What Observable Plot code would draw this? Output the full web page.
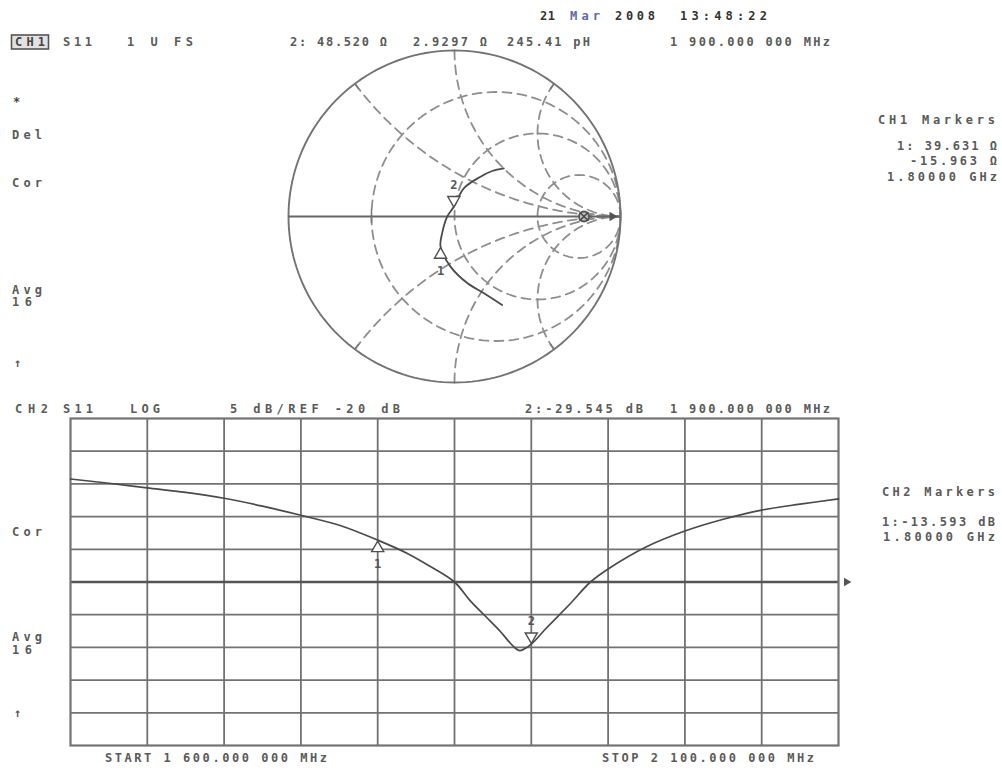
<!DOCTYPE html>
<html><head><meta charset="utf-8">
<script src="https://cdn.jsdelivr.net/npm/d3@7"></script>
<script src="https://cdn.jsdelivr.net/npm/@observablehq/plot@0.6"></script>
<style>
html,body{margin:0;padding:0;background:#fff;}
#page{position:relative;width:1002px;height:771px;overflow:hidden;background:#fff;}
#page svg{position:absolute;max-width:none!important;}
</style></head><body><div id="page"></div>
<script>
// ---------- DATA ----------
// CH2 log-magnitude trace (S11, dB) vs frequency (GHz)
const freqGHz = [1.600,1.625,1.650,1.675,1.700,1.725,1.750,1.776,1.800,1.819,1.834,1.850,1.860,1.870,1.880,1.885,1.890,1.8925,1.895,1.900,1.910,1.925,1.9385,1.950,1.975,2.000,2.025,2.050,2.075,2.100];
const s11dB   = [-4.25,-4.9,-5.6,-6.3,-7.2,-8.4,-9.8,-11.4,-13.6,-15.6,-17.6,-20.0,-22.8,-25.2,-27.6,-29.0,-30.2,-30.5,-30.3,-29.5,-27.0,-23.4,-20.0,-18.0,-14.6,-12.2,-10.4,-9.0,-8.1,-7.3];
// CH1 Smith chart trace (reflection coefficient, real / imaginary), 1.6 -> 2.1 GHz
const smithRe = [0.287,0.175,0.077,-0.024,-0.084,-0.074,-0.044,-0.004,0.056,0.157,0.227,0.297];
const smithIm = [-0.533,-0.461,-0.401,-0.302,-0.182,-0.099,-0.001,0.059,0.170,0.240,0.274,0.290];
// Smith graticule
const rCircles = [1/3, 1, 3];
const xArcs = [0.5, 1, 2, -0.5, -1, -2];
// Log-mag graticule
const xGridGHz = [1.65,1.70,1.75,1.80,1.85,1.90,1.95,2.00,2.05];
const yGridDB  = [0,-5,-10,-15,-25,-30,-35,-40];
const refDB = -20;
const xDomainGHz = [1.6, 2.1];
const yDomainDB = [-45, 5];
// markers (direction: "up" = triangle below trace pointing up, "down" = above pointing down)
const lmMarkerLabels = ["1","2"];
const lmMarkerFreq = [1.80, 1.90];
const lmMarkerDB = [-13.593, -29.545];
const smMarkerLabels = ["1","2"];
const smMarkerRe = [-0.084, -0.004];
const smMarkerIm = [-0.182, 0.051];
const markerDir = ["up", "down"];

// ---------- BUILD ----------
const page = document.getElementById("page");
const dash = "9,6";
const gridGray = "#8e8e8e";
const FONT = "DejaVu Sans Mono";

function gamma(a, b) { // normalized z = a + jb -> reflection coefficient
  const d = (a+1)*(a+1) + b*b;
  return [(a*a + b*b - 1)/d, 2*b/d];
}
const angles = d3.range(0, 361, 2);
const rGrid = rCircles.flatMap(r => angles.map(t => {
  const c = r/(1+r), rad = 1/(1+r), a = t*Math.PI/180;
  return {k: "r"+r, re: c + rad*Math.cos(a), im: rad*Math.sin(a)};
}));
const rSamples = [0, ...d3.range(0, 121).map(i => Math.pow(10, -2 + i*0.04))];
const xGrid = xArcs.flatMap(x => rSamples.map(r => {
  const [re, im] = gamma(r, x);
  return {k: "x"+x, re, im};
}));
const outer = angles.map(t => ({re: Math.cos(t*Math.PI/180), im: Math.sin(t*Math.PI/180)}));
const tickLinks = [0.5, 2, -0.5, -2].map(x => {
  const [re, im] = gamma(0, x);
  return {x1: re*0.96, y1: im*0.96, x2: re, y2: im};
});
const smTrace = smithRe.map((re, i) => ({re, im: smithIm[i]}));
const smMarkers = smMarkerLabels.map((l, i) => ({l, re: smMarkerRe[i], im: smMarkerIm[i], dir: markerDir[i]}));

function markerMarks(data, x, y) {
  const up = d => d.dir === "up", down = d => d.dir === "down";
  const tri = {x, y, r: 4.5, symbol: "triangle", fill: "white", stroke: "#505050", strokeWidth: 1.4};
  const lab = {x, y, text: "l", fontFamily: FONT, fontSize: 12, fontWeight: "bold", fill: "#555"};
  return [
    Plot.dot(data, {...tri, filter: up, dy: 8}),
    Plot.dot(data, {...tri, filter: down, rotate: 180, dy: -8}),
    Plot.text(data, {...lab, filter: up, dy: 24}),
    Plot.text(data, {...lab, filter: down, dy: -23})
  ];
}

const smith = Plot.plot({
  width: 352, height: 352, margin: 10,
  x: {domain: [-1, 1], axis: null},
  y: {domain: [-1, 1], axis: null},
  marks: [
    Plot.line(rGrid, {x: "re", y: "im", z: "k", stroke: gridGray, strokeWidth: 1.8, strokeDasharray: dash}),
    Plot.line(xGrid, {x: "re", y: "im", z: "k", stroke: gridGray, strokeWidth: 1.8, strokeDasharray: dash}),
    Plot.line(outer, {x: "re", y: "im", stroke: "#737373", strokeWidth: 1.9}),
    Plot.ruleY([0], {stroke: "#666", strokeWidth: 1.9}),
    Plot.ruleX([-0.5], {y1: -0.04, y2: 0.04, stroke: "#777", strokeWidth: 1.5}),
    Plot.link(tickLinks, {x1: "x1", y1: "y1", x2: "x2", y2: "y2", stroke: "#777", strokeWidth: 1.5}),
    Plot.dot([{re: 0.78, im: 0}], {x: "re", y: "im", r: 5, stroke: "#555", strokeWidth: 1.8, fill: "#bbb"}),
    Plot.dot([{re: 0.78, im: 0}], {x: "re", y: "im", r: 4, symbol: "times", stroke: "#444", strokeWidth: 1.4}),
    Plot.dot([{re: 0.95, im: 0}], {x: "re", y: "im", r: 3.5, symbol: "triangle", rotate: 90, fill: "#555", stroke: "none"}),
    Plot.line(smTrace, {x: "re", y: "im", stroke: "#4a4a4a", strokeWidth: 1.8, curve: "catmull-rom"}),
    ...markerMarks(smMarkers, "re", "im")
  ]
});
smith.style.left = "278px";
smith.style.top = "40px";
page.appendChild(smith);

const lmData = freqGHz.map((f, i) => ({f, db: s11dB[i]}));
const lmMarkers = lmMarkerLabels.map((l, i) => ({l, f: lmMarkerFreq[i], db: lmMarkerDB[i], dir: markerDir[i]}));
const logmag = Plot.plot({
  width: 798, height: 337,
  marginLeft: 10, marginRight: 20, marginTop: 5, marginBottom: 5,
  x: {domain: xDomainGHz, axis: null},
  y: {domain: yDomainDB, axis: null},
  marks: [
    Plot.ruleX(xGridGHz, {stroke: "#727272", strokeWidth: 1.8}),
    Plot.ruleY(yGridDB, {stroke: "#727272", strokeWidth: 1.8}),
    Plot.ruleY([refDB], {stroke: "#555", strokeWidth: 2.6}),
    Plot.frame({stroke: "#737373", strokeWidth: 2.2}),
    Plot.dot([{f: xDomainGHz[1], db: refDB}], {x: "f", y: "db", r: 3.2, symbol: "triangle", rotate: 90, dx: 8, fill: "#555", stroke: "none"}),
    Plot.line(lmData, {x: "f", y: "db", stroke: "#4a4a4a", strokeWidth: 1.7, curve: "catmull-rom"}),
    ...markerMarks(lmMarkers, "f", "db")
  ]
});
logmag.style.left = "60px";
logmag.style.top = "413px";
page.appendChild(logmag);

// ---------- TEXT ANNOTATIONS ----------
const texts = [
  // [text, x, cy, width, anchor, fill]
  ["21", 540, 16, 15, "start", "#333"],
  ["Mar", 570, 16, 30, "start", "#5a6aaa"],
  ["2008", 615, 16, 40, "start", "#333"],
  ["13:48:22", 680, 16, 87, "start", "#333"],
  ["CH1", 15, 42, 30, "start", "#444"],
  ["S11", 63, 42, 29, "start", "#5a5a5a"],
  ["1 U FS", 127, 42, 66, "start", "#5a5a5a"],
  ["2: 48.520 Ω", 290, 42, 97, "start", "#5a5a5a"],
  ["2.9297 Ω", 413, 42, 74, "start", "#5a5a5a"],
  ["245.41 pH", 507, 42, 83, "start", "#5a5a5a"],
  ["1 900.000 000 MHz", 670, 42, 160, "start", "#5a5a5a"],
  ["*", 13, 102, 0, "start", "#444"],
  ["Del", 12, 135, 30, "start", "#5a5a5a"],
  ["Cor", 12, 183, 30, "start", "#5a5a5a"],
  ["Avg", 12, 290, 30, "start", "#5a5a5a"],
  ["16", 12, 302, 20, "start", "#5a5a5a"],
  ["↑", 14, 363, 0, "start", "#5a5a5a"],
  ["CH1 Markers", 995, 120, 117, "end", "#5a5a5a"],
  ["1: 39.631 Ω", 997, 146, 100, "end", "#5a5a5a"],
  ["-15.963 Ω", 997, 161, 87, "end", "#5a5a5a"],
  ["1.80000 GHz", 997, 177, 110, "end", "#5a5a5a"],
  ["CH2", 15, 409, 33, "start", "#5a5a5a"],
  ["S11", 63, 409, 30, "start", "#5a5a5a"],
  ["LOG", 130, 409, 30, "start", "#5a5a5a"],
  ["5 dB/REF -20 dB", 230, 409, 170, "start", "#5a5a5a"],
  ["2:-29.545 dB", 525, 409, 118, "start", "#5a5a5a"],
  ["1 900.000 000 MHz", 670, 409, 160, "start", "#5a5a5a"],
  ["Cor", 12, 532, 30, "start", "#5a5a5a"],
  ["Avg", 12, 637, 30, "start", "#5a5a5a"],
  ["16", 12, 650, 20, "start", "#5a5a5a"],
  ["↑", 14, 713, 0, "start", "#5a5a5a"],
  ["CH2 Markers", 995, 492, 113, "end", "#5a5a5a"],
  ["1:-13.593 dB", 995, 522, 113, "end", "#5a5a5a"],
  ["1.80000 GHz", 995, 537, 112, "end", "#5a5a5a"],
  ["START 1 600.000 000 MHz", 105, 758, 222, "start", "#5a5a5a"],
  ["STOP 2 100.000 000 MHz", 602, 758, 212, "start", "#5a5a5a"]
];
const ann = d3.create("svg").attr("width", 1002).attr("height", 771)
  .style("left", "0px").style("top", "0px").style("pointer-events", "none");
ann.append("rect").attr("x", 11.5).attr("y", 35).attr("width", 37).attr("height", 14)
  .attr("fill", "#e2e2e2").attr("stroke", "#555").attr("stroke-width", 1.6);
for (const [t, x, cy, w, anchor, fill] of texts) {
  const el = ann.append("text").attr("x", x).attr("y", cy)
    .attr("dominant-baseline", "central").attr("text-anchor", anchor)
    .attr("font-family", FONT).attr("font-size", 12)
    .attr("font-weight", "bold").attr("fill", fill).text(t);
  if (w > 0) el.attr("textLength", w).attr("lengthAdjust", "spacing");
}
page.appendChild(ann.node());
</script></body></html>
